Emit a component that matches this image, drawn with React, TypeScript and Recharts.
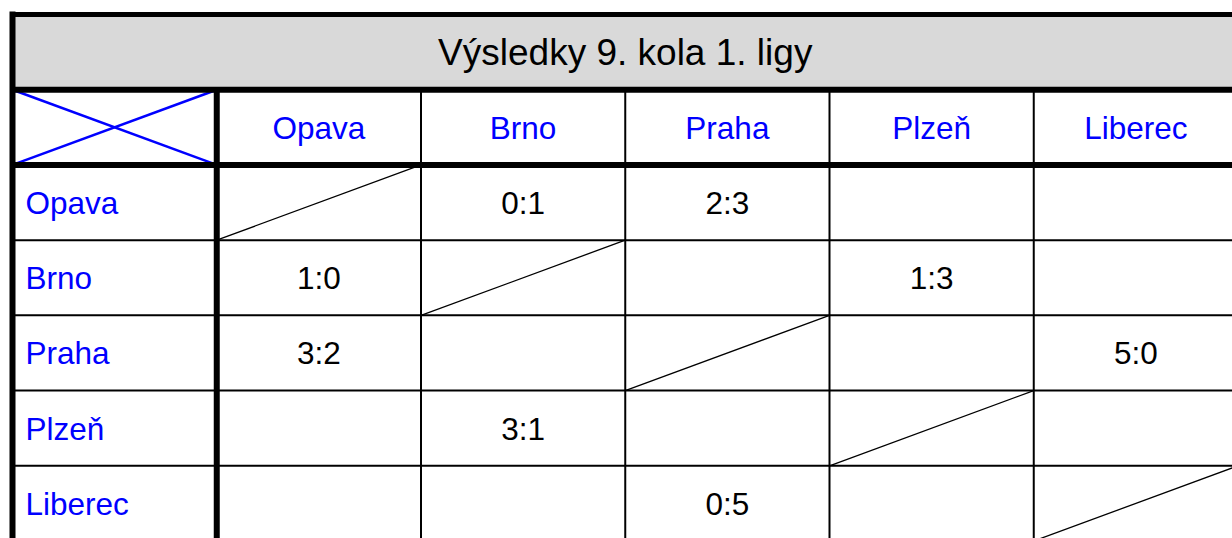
import React from "react";
import { ReferenceArea, ReferenceLine, Scatter, ScatterChart, XAxis, YAxis } from "recharts";

const title = "Výsledky 9. kola 1. ligy";
const teams = ["Opava", "Brno", "Praha", "Plzeň", "Liberec"];
// rows = home team, columns = opponent; "" = not played, diagonal = crossed out
const scores: string[][] = [
  ["", "0:1", "2:3", "", ""],
  ["1:0", "", "", "1:3", ""],
  ["3:2", "", "", "", "5:0"],
  ["", "3:1", "", "", ""],
  ["", "", "0:5", "", ""],
];

const FONT = "'Liberation Sans', Arial, sans-serif";
const BLUE = "#0000ff";

const n = teams.length;
const cols = n + 1;
const rows = n + 2;

type Cell = { x: number; y: number; text: string; kind: "title" | "head" | "row" | "score" };

const cells: Cell[] = [
  { x: cols / 2, y: 0.5, text: title, kind: "title" },
  ...teams.map((t, j) => ({ x: j + 1.5, y: 1.5, text: t, kind: "head" as const })),
  ...teams.map((t, i) => ({ x: 0, y: i + 2.5, text: t, kind: "row" as const })),
  ...scores.flatMap((r, i) =>
    r.map((s, j) => ({ x: j + 1.5, y: i + 2.5, text: s, kind: "score" as const }))
  ).filter((c) => c.text !== ""),
];

function CellText(props: any) {
  const { cx, cy, payload } = props;
  const kind = payload.kind;
  const size = kind === "title" ? 37 : 31.5;
  const fill = kind === "head" || kind === "row" ? BLUE : "#000";
  return (
    <text
      x={kind === "row" ? cx + 13 : cx}
      y={cy + size * 0.36}
      textAnchor={kind === "row" ? "start" : "middle"}
      fontSize={size}
      fontFamily={FONT}
      fill={fill}
    >
      {payload.text}
    </text>
  );
}

const thin = { stroke: "#000", strokeWidth: 2 };
const thick = { stroke: "#000", strokeWidth: 6 };

export default function App() {
  const hLines = Array.from({ length: n - 1 }, (_, k) => k + 3);
  const vLines = Array.from({ length: n - 1 }, (_, k) => k + 2);
  return (
    <div
      style={{ position: "fixed", left: 0, top: 0, width: 1232, height: 538, overflow: "hidden", background: "#fff" }}
    >
      <ScatterChart width={1250} height={560} margin={{ top: 14.5, left: 12.5, right: 12, bottom: 19 }}>
        <XAxis type="number" dataKey="x" domain={[0, cols]} hide allowDataOverflow />
        <YAxis type="number" dataKey="y" domain={[0, rows]} reversed hide allowDataOverflow />
        <ReferenceArea x1={0} x2={cols} y1={0} y2={1} fill="#d9d9d9" fillOpacity={1} ifOverflow="visible" />

        {/* crossed header corner */}
        <ReferenceLine segment={[{ x: 0, y: 1 }, { x: 1, y: 2 }]} stroke={BLUE} strokeWidth={2.5} ifOverflow="visible" />
        <ReferenceLine segment={[{ x: 0, y: 2 }, { x: 1, y: 1 }]} stroke={BLUE} strokeWidth={2.5} ifOverflow="visible" />

        {/* diagonal cells */}
        {teams.map((t, i) => (
          <ReferenceLine
            key={"d" + t}
            segment={[{ x: i + 1, y: i + 3 }, { x: i + 2, y: i + 2 }]}
            stroke="#000"
            strokeWidth={1.3}
            ifOverflow="visible"
          />
        ))}

        {hLines.map((y) => (
          <ReferenceLine key={"h" + y} segment={[{ x: 0, y }, { x: cols, y }]} {...thin} ifOverflow="visible" />
        ))}
        {vLines.map((x) => (
          <ReferenceLine key={"v" + x} segment={[{ x, y: 1 }, { x, y: rows }]} {...thin} ifOverflow="visible" />
        ))}

        <ReferenceLine segment={[{ x: 0, y: 0 }, { x: cols, y: 0 }]} stroke="#000" strokeWidth={5} ifOverflow="visible" />
        <ReferenceLine segment={[{ x: 0, y: 1 }, { x: cols, y: 1 }]} {...thick} ifOverflow="visible" />
        <ReferenceLine segment={[{ x: 0, y: 2 }, { x: cols, y: 2 }]} {...thick} ifOverflow="visible" />
        <ReferenceLine segment={[{ x: 0, y: -0.04 }, { x: 0, y: rows }]} {...thick} ifOverflow="visible" />
        <ReferenceLine segment={[{ x: 1, y: 1 }, { x: 1, y: rows }]} {...thick} ifOverflow="visible" />
        <ReferenceLine segment={[{ x: cols, y: 0 }, { x: cols, y: rows }]} {...thick} ifOverflow="visible" />

        <Scatter data={cells} shape={CellText} isAnimationActive={false} />
      </ScatterChart>
    </div>
  );
}
